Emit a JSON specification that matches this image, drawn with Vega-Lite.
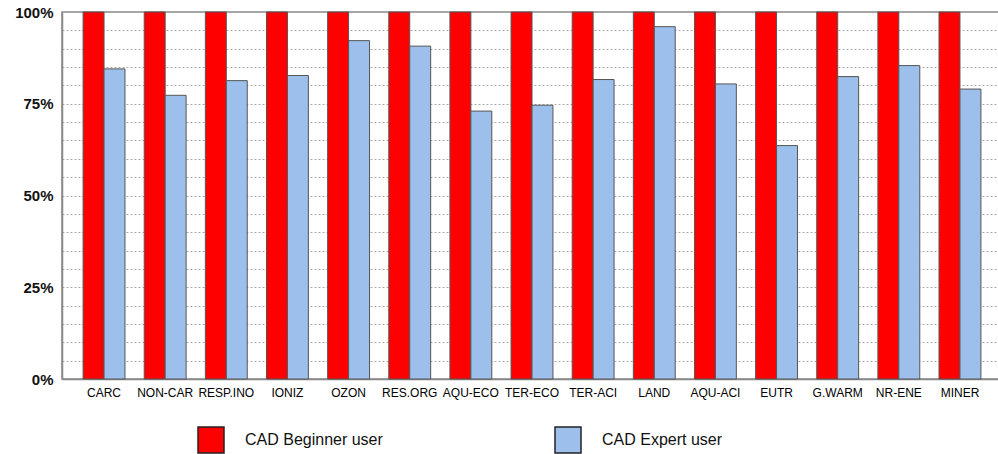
{
  "$schema": "https://vega.github.io/schema/vega-lite/v6.json",
  "autosize": {"type": "none"},
  "padding": {"left": 62, "top": 12, "right": 0, "bottom": 75},
  "width": 940,
  "height": 367,
  "background": "white",
  "config": {"view": {"stroke": "#888", "strokeWidth": 1.5}, "font": "Liberation Sans"},
  "data": {"values": [
    {"category": "CARC", "user": "CAD Beginner user", "value": 1.0},
    {"category": "CARC", "user": "CAD Expert user", "value": 0.845},
    {"category": "NON-CAR", "user": "CAD Beginner user", "value": 1.0},
    {"category": "NON-CAR", "user": "CAD Expert user", "value": 0.773},
    {"category": "RESP.INO", "user": "CAD Beginner user", "value": 1.0},
    {"category": "RESP.INO", "user": "CAD Expert user", "value": 0.813},
    {"category": "IONIZ", "user": "CAD Beginner user", "value": 1.0},
    {"category": "IONIZ", "user": "CAD Expert user", "value": 0.827},
    {"category": "OZON", "user": "CAD Beginner user", "value": 1.0},
    {"category": "OZON", "user": "CAD Expert user", "value": 0.922},
    {"category": "RES.ORG", "user": "CAD Beginner user", "value": 1.0},
    {"category": "RES.ORG", "user": "CAD Expert user", "value": 0.907},
    {"category": "AQU-ECO", "user": "CAD Beginner user", "value": 1.0},
    {"category": "AQU-ECO", "user": "CAD Expert user", "value": 0.730},
    {"category": "TER-ECO", "user": "CAD Beginner user", "value": 1.0},
    {"category": "TER-ECO", "user": "CAD Expert user", "value": 0.746},
    {"category": "TER-ACI", "user": "CAD Beginner user", "value": 1.0},
    {"category": "TER-ACI", "user": "CAD Expert user", "value": 0.816},
    {"category": "LAND", "user": "CAD Beginner user", "value": 1.0},
    {"category": "LAND", "user": "CAD Expert user", "value": 0.960},
    {"category": "AQU-ACI", "user": "CAD Beginner user", "value": 1.0},
    {"category": "AQU-ACI", "user": "CAD Expert user", "value": 0.804},
    {"category": "EUTR", "user": "CAD Beginner user", "value": 1.0},
    {"category": "EUTR", "user": "CAD Expert user", "value": 0.636},
    {"category": "G.WARM", "user": "CAD Beginner user", "value": 1.0},
    {"category": "G.WARM", "user": "CAD Expert user", "value": 0.824},
    {"category": "NR-ENE", "user": "CAD Beginner user", "value": 1.0},
    {"category": "NR-ENE", "user": "CAD Expert user", "value": 0.854},
    {"category": "MINER", "user": "CAD Beginner user", "value": 1.0},
    {"category": "MINER", "user": "CAD Expert user", "value": 0.790}
  ]},
  "mark": {"type": "bar", "stroke": "#555", "strokeWidth": 1},
  "encoding": {
    "x": {
      "field": "category", "type": "nominal", "sort": null,
      "scale": {"paddingInner": 0.315, "paddingOuter": 0.345},
      "axis": {"title": null, "labelAngle": 0, "labelFontSize": 12, "labelColor": "#000", "labelPadding": 8, "ticks": false, "domainColor": "#888", "domainWidth": 1.5}
    },
    "xOffset": {"field": "user", "type": "nominal", "sort": ["CAD Beginner user", "CAD Expert user"], "scale": {"paddingInner": 0, "paddingOuter": 0}},
    "y": {
      "field": "value", "type": "quantitative",
      "scale": {"domain": [0, 1], "nice": false},
      "axis": {
        "title": null,
        "values": [0, 0.05, 0.1, 0.15, 0.2, 0.25, 0.3, 0.35, 0.4, 0.45, 0.5, 0.55, 0.6, 0.65, 0.7, 0.75, 0.8, 0.85, 0.9, 0.95, 1],
        "format": ".0%",
        "labelExpr": "round(datum.value*100) % 25 == 0 ? datum.label : ''",
        "grid": true, "gridDash": [2, 2], "gridColor": "#aaa", "gridWidth": 1,
        "ticks": false, "labelFontWeight": "bold", "labelFontSize": 15, "labelColor": "#111", "labelPadding": 9,
        "domainColor": "#888", "domainWidth": 1.5
      }
    },
    "color": {
      "field": "user", "type": "nominal",
      "scale": {"domain": ["CAD Beginner user", "CAD Expert user"], "range": ["#ff0000", "#9dbfeb"]},
      "legend": {
        "title": null, "orient": "none", "legendX": 135, "legendY": 414,
        "direction": "horizontal", "columns": 2, "columnPadding": 169,
        "symbolType": "square", "symbolSize": 676, "symbolStrokeColor": "#222", "symbolStrokeWidth": 1.5, "symbolOpacity": 1,
        "labelFontSize": 16, "labelOffset": 20, "labelColor": "#111", "padding": 0
      }
    }
  }
}
